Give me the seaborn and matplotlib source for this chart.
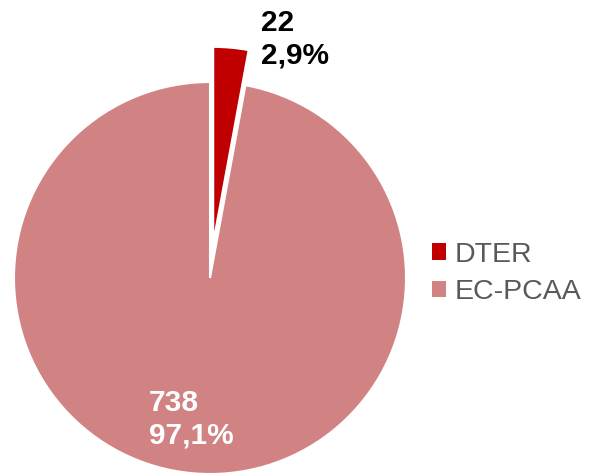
import matplotlib
matplotlib.use("Agg")
import matplotlib.pyplot as plt
import seaborn as sns

categories = ["DTER", "EC-PCAA"]
counts = [22, 738]
colors = ["#C00000", "#D18282"]

sns.set_theme(style="white")
plt.rcParams["font.family"] = ["Liberation Sans", "DejaVu Sans"]

W, H = 590, 475
fig = plt.figure(figsize=(W / 100, H / 100), dpi=100)
ax = fig.add_axes([0, 0, 1, 1])

cx, cy, R = 210, 278, 196
total = sum(counts)

wedges, _ = ax.pie(
    counts,
    colors=colors,
    startangle=90,
    counterclock=False,
    explode=[0.18, 0.0],
    radius=1.0,
    wedgeprops=dict(edgecolor="white", linewidth=1.5),
)
ax.set_aspect("auto")
ax.set_xlim(-cx / R, (W - cx) / R)
ax.set_ylim((cy - H) / R, cy / R)
ax.axis("off")

labels = [f"{c}\n{c / total * 100:.1f}%".replace(".", ",") for c in counts]

def px(x, y):
    return (x / W, 1 - y / H)

fig.text(*px(261, 9), labels[0], ha="left", va="top", fontsize=21.5,
         fontweight="bold", color="black", linespacing=1.22)
fig.text(*px(149, 389), labels[1], ha="left", va="top", fontsize=21.5,
         fontweight="bold", color="white", linespacing=1.22)

leg = fig.legend(
    wedges, categories,
    loc="center left",
    bbox_to_anchor=px(432, 273.5),
    bbox_transform=fig.transFigure,
    frameon=False,
    fontsize=20.5,
    handlelength=0.5,
    handleheight=0.5,
    handletextpad=0.3,
    labelspacing=0.42,
    borderpad=0,
    borderaxespad=0,
)
for t in leg.get_texts():
    t.set_color("#595959")
for h in leg.legend_handles:
    h.set_linewidth(0)

fig.savefig("out.png", dpi=100)
